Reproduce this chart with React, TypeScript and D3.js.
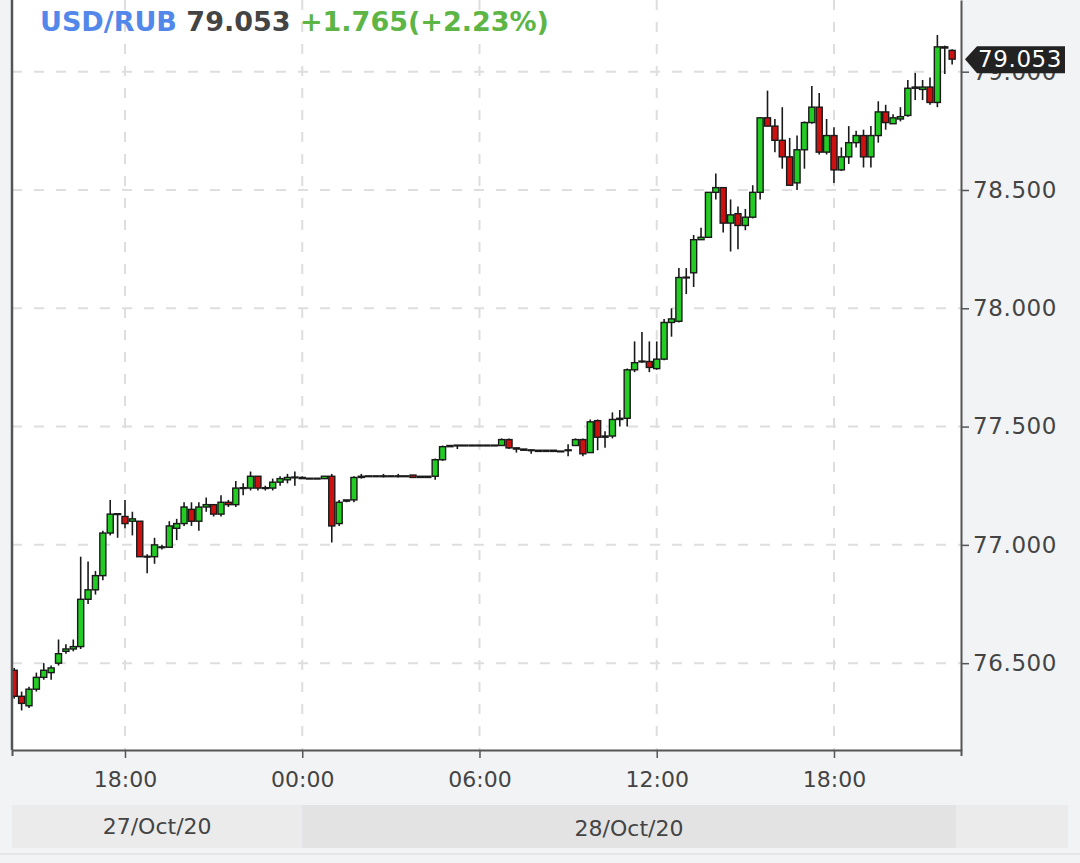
import React, { useEffect, useRef } from 'react';
import * as d3 from 'd3';

// header
const symbol = 'USD/RUB';
const lastText = '79.053';
const changeText = '+1.765(+2.23%)';

// 15 minute candles starting 27 Oct 2020 14:15 (UTC)
const firstCandle = Date.UTC(2020, 9, 27, 14, 15);
const stepMinutes = 15;

const opens = [
  76.47, 76.36, 76.32, 76.39, 76.44, 76.46, 76.5, 76.55, 76.56, 76.57,
  76.77, 76.81, 76.87, 77.05, 77.13, 77.12, 77.1, 77.1, 76.95, 76.95,
  76.99, 76.99, 77.07, 77.09, 77.15, 77.1, 77.16, 77.17, 77.13, 77.18,
  77.17, 77.24, 77.24, 77.29, 77.24, 77.24, 77.265, 77.275, 77.285, 77.285,
  77.28, 77.28, 77.28, 77.29, 77.09, 77.185, 77.19, 77.285, 77.29, 77.29,
  77.29, 77.29, 77.29, 77.29, 77.295, 77.29, 77.285, 77.29, 77.36, 77.415,
  77.42, 77.42, 77.42, 77.42, 77.42, 77.42, 77.42, 77.445, 77.41, 77.405,
  77.4, 77.4, 77.395, 77.4, 77.395, 77.4, 77.42, 77.445, 77.39, 77.525,
  77.455, 77.46, 77.53, 77.535, 77.74, 77.775, 77.775, 77.745, 77.785, 77.94,
  77.945, 78.13, 78.15, 78.29, 78.3, 78.49, 78.51, 78.36, 78.4, 78.35,
  78.385, 78.49, 78.805, 78.77, 78.71, 78.64, 78.53, 78.67, 78.785, 78.85,
  78.66, 78.73, 78.585, 78.64, 78.7, 78.73, 78.64, 78.73, 78.83, 78.78,
  78.8, 78.815, 78.93, 78.925, 78.935, 78.87, 79.105, 79.09,
];
const highs = [
  76.48, 76.38, 76.4, 76.46, 76.5, 76.49, 76.6, 76.58, 76.6, 76.95,
  76.93, 76.89, 77.06, 77.19, 77.13, 77.19, 77.14, 77.1, 76.96, 77.03,
  77.0, 77.1, 77.11, 77.18, 77.18, 77.18, 77.2, 77.17, 77.21, 77.19,
  77.27, 77.26, 77.31, 77.29, 77.25, 77.28, 77.29, 77.3, 77.31, 77.29,
  77.28, 77.28, 77.29, 77.3, 77.19, 77.19, 77.29, 77.3, 77.29, 77.29,
  77.3, 77.29, 77.3, 77.29, 77.295, 77.29, 77.29, 77.365, 77.42, 77.42,
  77.42, 77.42, 77.42, 77.42, 77.42, 77.42, 77.45, 77.45, 77.41, 77.405,
  77.4, 77.4, 77.4, 77.4, 77.395, 77.425, 77.45, 77.45, 77.53, 77.53,
  77.48, 77.56, 77.57, 77.745, 77.86, 77.9, 77.86, 77.86, 77.955, 78.0,
  78.17, 78.17, 78.31, 78.34, 78.49, 78.57, 78.51, 78.46, 78.43, 78.42,
  78.52, 78.805, 78.92, 78.8, 78.85, 78.72, 78.73, 78.79, 78.94, 78.91,
  78.8, 78.765, 78.68, 78.77, 78.75, 78.755, 78.77, 78.875, 78.86, 78.82,
  78.85, 78.965, 78.995, 78.965, 78.975, 79.155, 79.11, 79.095,
];
const lows = [
  76.35, 76.3, 76.31, 76.38, 76.43, 76.43, 76.49, 76.54, 76.55, 76.56,
  76.75, 76.79, 76.85, 77.04, 77.03, 77.07, 77.04, 76.95, 76.88, 76.92,
  76.98, 76.99, 77.02, 77.08, 77.08, 77.06, 77.14, 77.12, 77.12, 77.16,
  77.16, 77.21, 77.23, 77.23, 77.23, 77.23, 77.25, 77.26, 77.25, 77.28,
  77.28, 77.28, 77.28, 77.01, 77.08, 77.18, 77.18, 77.28, 77.29, 77.29,
  77.285, 77.29, 77.285, 77.29, 77.285, 77.285, 77.285, 77.275, 77.355, 77.415,
  77.405, 77.42, 77.42, 77.42, 77.42, 77.42, 77.42, 77.405, 77.39, 77.4,
  77.385, 77.395, 77.395, 77.395, 77.395, 77.375, 77.42, 77.375, 77.39, 77.4,
  77.41, 77.45, 77.5, 77.5, 77.73, 77.77, 77.73, 77.74, 77.78, 77.88,
  77.94, 78.06, 78.09, 78.29, 78.3, 78.46, 78.32, 78.24, 78.25, 78.33,
  78.38, 78.46, 78.77, 78.66, 78.59, 78.52, 78.5, 78.59, 78.78, 78.65,
  78.65, 78.53, 78.58, 78.61, 78.68, 78.595, 78.595, 78.7, 78.755, 78.78,
  78.79, 78.81, 78.88, 78.88, 78.86, 78.85, 78.99, 79.03,
];
const closes = [
  76.36, 76.33, 76.39, 76.44, 76.47, 76.48, 76.54, 76.56, 76.57, 76.77,
  76.81, 76.87, 77.05, 77.13, 77.13, 77.09, 77.11, 76.95, 76.95, 77.0,
  76.99, 77.08, 77.09, 77.16, 77.1, 77.16, 77.17, 77.13, 77.18, 77.17,
  77.24, 77.24, 77.29, 77.24, 77.24, 77.265, 77.28, 77.285, 77.285, 77.28,
  77.28, 77.28, 77.29, 77.08, 77.18, 77.19, 77.285, 77.29, 77.29, 77.29,
  77.29, 77.29, 77.29, 77.29, 77.285, 77.285, 77.29, 77.36, 77.415, 77.42,
  77.42, 77.42, 77.42, 77.42, 77.42, 77.42, 77.445, 77.41, 77.405, 77.4,
  77.4, 77.395, 77.4, 77.395, 77.395, 77.4, 77.445, 77.385, 77.52, 77.455,
  77.46, 77.53, 77.535, 77.74, 77.77, 77.775, 77.75, 77.785, 77.94, 77.955,
  78.13, 78.13, 78.29, 78.3, 78.49, 78.51, 78.36, 78.395, 78.35, 78.385,
  78.49, 78.805, 78.77, 78.71, 78.64, 78.52, 78.67, 78.785, 78.85, 78.66,
  78.73, 78.585, 78.64, 78.7, 78.73, 78.64, 78.73, 78.83, 78.785, 78.805,
  78.81, 78.93, 78.935, 78.935, 78.87, 79.105, 79.1, 79.053,
];

const priceTicks = [76.5, 77.0, 77.5, 78.0, 78.5, 79.0];
const dayLabels = ['27/Oct/20', '28/Oct/20'];

export default function App() {
  const svgRef = useRef<SVGSVGElement>(null);

  useEffect(() => {
    if (!svgRef.current) return;
    const svg = d3.select(svgRef.current);
    svg.selectAll('*').remove();

    const width = 1080;
    const height = 863;
    const plot = { left: 12, right: 961, top: 0, bottom: 750 };
    const font = 'DejaVu Sans, Verdana, sans-serif';

    const candles = opens.map((o, i) => ({
      t: new Date(firstCandle + i * stepMinutes * 60000),
      o,
      h: highs[i],
      l: lows[i],
      c: closes[i],
    }));

    const x = d3
      .scaleUtc()
      .domain([new Date(Date.UTC(2020, 9, 27, 14, 10, 30)), new Date(Date.UTC(2020, 9, 28, 22, 18))])
      .range([plot.left, plot.right]);
    const y = d3.scaleLinear().domain([76.133, 79.303]).range([plot.bottom, plot.top]);

    const step = x(new Date(firstCandle + stepMinutes * 60000)) - x(new Date(firstCandle));
    const bodyW = step * 0.82;

    // background
    svg.append('rect').attr('width', width).attr('height', height).attr('fill', '#f2f3f5');
    svg
      .append('rect')
      .attr('x', plot.left)
      .attr('y', plot.top)
      .attr('width', plot.right - plot.left)
      .attr('height', plot.bottom - plot.top)
      .attr('fill', '#ffffff');

    // grid
    const timeTicks = x.ticks(d3.utcHour.every(6)!);
    svg
      .append('g')
      .selectAll('line')
      .data(timeTicks)
      .join('line')
      .attr('x1', (d) => x(d))
      .attr('x2', (d) => x(d))
      .attr('y1', plot.top)
      .attr('y2', plot.bottom)
      .attr('stroke', '#dedede')
      .attr('stroke-width', 2)
      .attr('stroke-dasharray', '10,12');
    svg
      .append('g')
      .selectAll('line')
      .data(priceTicks)
      .join('line')
      .attr('x1', plot.left)
      .attr('x2', plot.right)
      .attr('y1', (d) => y(d))
      .attr('y2', (d) => y(d))
      .attr('stroke', '#dedede')
      .attr('stroke-width', 2)
      .attr('stroke-dasharray', '10,12');

    // candles
    svg
      .append('clipPath')
      .attr('id', 'plot-clip')
      .append('rect')
      .attr('x', plot.left)
      .attr('y', plot.top)
      .attr('width', plot.right - plot.left)
      .attr('height', plot.bottom - plot.top);

    const g = svg.append('g').attr('clip-path', 'url(#plot-clip)');
    const candle = g.selectAll('g').data(candles).join('g');

    candle
      .append('line')
      .attr('x1', (d) => x(d.t))
      .attr('x2', (d) => x(d.t))
      .attr('y1', (d) => y(d.h))
      .attr('y2', (d) => y(d.l))
      .attr('stroke', '#1a1a1a')
      .attr('stroke-width', 1.6);

    // zero-height bodies still need to show as a flat bar
    candle
      .append('rect')
      .attr('x', (d) => x(d.t) - bodyW / 2)
      .attr('y', (d) => Math.min(y(Math.max(d.o, d.c)), (y(d.o) + y(d.c)) / 2 - 0.4))
      .attr('width', bodyW)
      .attr('height', (d) => Math.max(0.8, Math.abs(y(d.o) - y(d.c))))
      .attr('fill', (d) => (d.c >= d.o ? '#22cc22' : '#cc1111'))
      .attr('stroke', '#1a1a1a')
      .attr('stroke-width', 1.4);

    // plot frame
    svg
      .append('line')
      .attr('x1', plot.left)
      .attr('x2', plot.left)
      .attr('y1', plot.top)
      .attr('y2', plot.bottom)
      .attr('stroke', '#555')
      .attr('stroke-width', 2.5);

    // x axis
    const xAxis = d3
      .axisBottom(x)
      .ticks(d3.utcHour.every(6)!)
      .tickFormat(d3.utcFormat('%H:%M') as any)
      .tickSizeInner(8)
      .tickSizeOuter(6)
      .tickPadding(8);
    const gx = svg.append('g').attr('transform', `translate(0,${plot.bottom})`).call(xAxis);
    gx.select('.domain').attr('stroke', '#555').attr('stroke-width', 2);
    gx.selectAll('.tick line').attr('stroke', '#555').attr('stroke-width', 1.5);
    gx.selectAll('.tick text')
      .attr('fill', '#444')
      .attr('font-family', font)
      .attr('font-size', 22)
      .attr('dy', '0.95em');

    // y axis
    const yAxis = d3
      .axisRight(y)
      .tickValues(priceTicks)
      .tickFormat(d3.format('.3f') as any)
      .tickSizeInner(8)
      .tickSizeOuter(0)
      .tickPadding(4);
    const gy = svg.append('g').attr('transform', `translate(${plot.right},0)`).call(yAxis);
    gy.select('.domain').attr('stroke', '#555').attr('stroke-width', 2);
    gy.selectAll('.tick line').attr('stroke', '#555').attr('stroke-width', 1.5);
    gy.selectAll('.tick text')
      .attr('fill', '#444')
      .attr('font-family', font)
      .attr('font-size', 23)
      .attr('letter-spacing', 0.6);

    // last price marker (sits over the 79.000 label, as in the original)
    const last = candles[candles.length - 1];
    const ly = y(last.c);
    svg
      .append('path')
      .attr('d', `M${plot.right + 4},${ly} L${plot.right + 16},${ly - 13} L1065,${ly - 13} L1065,${ly + 14} L${plot.right + 16},${ly + 14} Z`)
      .attr('fill', '#222');
    svg
      .append('text')
      .attr('x', plot.right + 17)
      .attr('y', ly)
      .attr('dy', '0.36em')
      .attr('fill', '#fff')
      .attr('font-family', font)
      .attr('font-size', 23)
      .attr('letter-spacing', 0.6)
      .text(last.c.toFixed(3));

    // date strip
    const stripTop = 805;
    const stripBottom = 848;
    const dayStart = new Date(Date.UTC(2020, 9, 28, 0, 0));
    const dataEnd = new Date(last.t.getTime() + (stepMinutes / 2) * 60000);
    svg
      .append('rect')
      .attr('x', plot.left)
      .attr('y', stripTop)
      .attr('width', 1068 - plot.left)
      .attr('height', stripBottom - stripTop)
      .attr('fill', '#ebebec');
    svg
      .append('rect')
      .attr('x', x(dayStart))
      .attr('y', stripTop)
      .attr('width', x(dataEnd) - x(dayStart))
      .attr('height', stripBottom - stripTop)
      .attr('fill', '#e3e3e4');
    const dayCenters = [(plot.left + x(dayStart)) / 2, (x(dayStart) + x(dataEnd)) / 2];
    svg
      .append('g')
      .selectAll('text')
      .data(dayLabels)
      .join('text')
      .attr('x', (_, i) => dayCenters[i])
      .attr('y', (_, i) => (i === 0 ? 826 : 828))
      .attr('dy', '0.36em')
      .attr('text-anchor', 'middle')
      .attr('fill', '#444')
      .attr('font-family', font)
      .attr('font-size', 22)
      .text((d) => d);
    svg
      .append('line')
      .attr('x1', 0)
      .attr('x2', width)
      .attr('y1', 854)
      .attr('y2', 854)
      .attr('stroke', '#e2e2e4')
      .attr('stroke-width', 1.5);

    // header
    const title = svg
      .append('text')
      .attr('x', 40)
      .attr('y', 31)
      .attr('font-family', font)
      .attr('font-weight', 'bold')
      .attr('font-size', 27);
    title.append('tspan').attr('fill', '#5288ea').text(symbol);
    title.append('tspan').attr('fill', '#444').text(' ' + lastText);
    title.append('tspan').attr('fill', '#5cb545').text(' ' + changeText);
  }, []);

  return (
    <svg
      ref={svgRef}
      width={1080}
      height={863}
      style={{ position: 'absolute', left: 0, top: 0, display: 'block' }}
    />
  );
}
